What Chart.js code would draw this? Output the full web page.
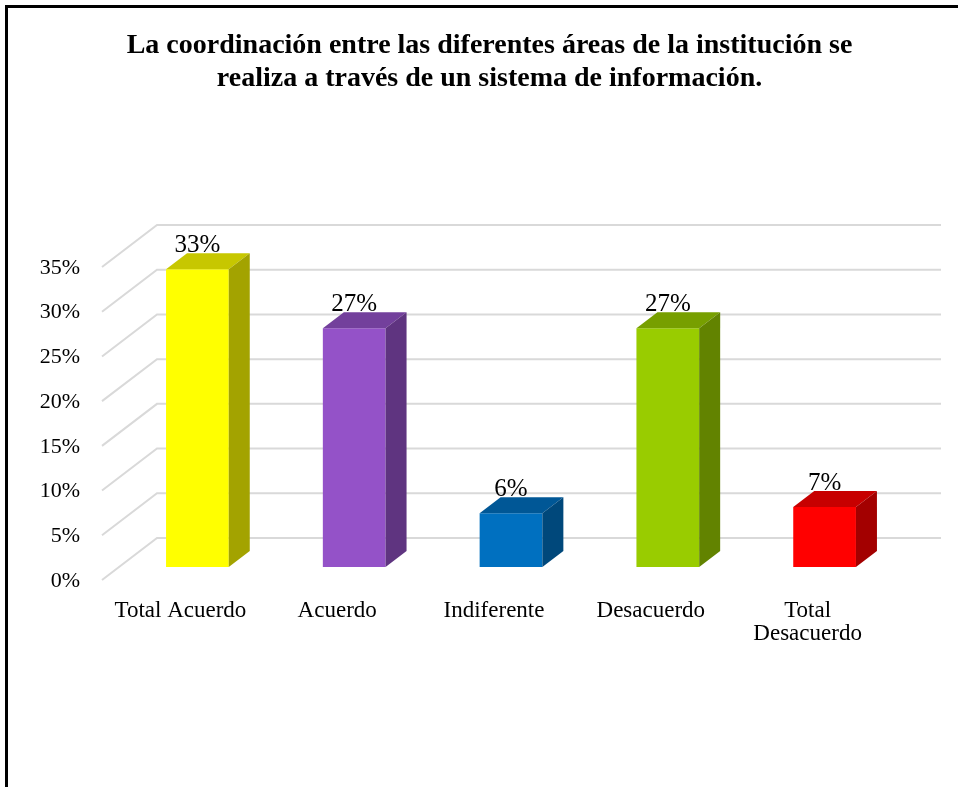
<!DOCTYPE html>
<html>
<head>
<meta charset="utf-8">
<script src="https://cdn.jsdelivr.net/npm/chart.js@4/dist/chart.umd.min.js"></script>
<style>
  html, body { margin: 0; padding: 0; background: #fff; }
  #wrap { position: relative; width: 958px; height: 787px; overflow: hidden; }
  #c { position: absolute; left: 0; top: 0; }
  .bt { position: absolute; left: 5px; top: 5px; width: 953px; height: 3px; background: #000; }
  .bl { position: absolute; left: 5px; top: 5px; width: 3px; height: 782px; background: #000; }
</style>
</head>
<body>
<div id="wrap">
  <canvas id="c" width="958" height="787"></canvas>
  <div class="bt"></div>
  <div class="bl"></div>
</div>
<script>
// ---- data ----
const titleLines = [
  "La coordinación entre las diferentes áreas de la institución se",
  "realiza a través de un sistema de información."
];
const categories = ["Total Acuerdo", "Acuerdo", "Indiferente", "Desacuerdo", ["Total", "Desacuerdo"]];
const values = [33.3, 26.7, 6.0, 26.7, 6.7];
const barColors = ["#FFFF00", "#9452C8", "#0070C0", "#99CC00", "#FF0000"];
const yMin = 0;
const yMax = 35;
const yStep = 5;

// ---- helpers ----
function shade(hex, f) {
  const n = parseInt(hex.slice(1), 16);
  const r = Math.round(((n >> 16) & 255) * f);
  const g = Math.round(((n >> 8) & 255) * f);
  const b = Math.round((n & 255) * f);
  return `rgb(${r},${g},${b})`;
}

const FRONT = { dx: -17, dy: 13 };   // front wall plane relative to bar plane
const BACK = { dx: 38, dy: -29 };    // back wall plane relative to bar plane
const DEPTH = { dx: 21, dy: -16 };   // bar depth

const wallsPlugin = {
  id: 'walls3d',
  beforeDatasetsDraw(chart) {
    const ctx = chart.ctx;
    const ys = chart.scales.y;
    const a = chart.chartArea;
    ctx.save();
    ctx.strokeStyle = '#d9d9d9';
    ctx.lineWidth = 2;
    ys.ticks.forEach(t => {
      const py = ys.getPixelForValue(t.value);
      ctx.beginPath();
      ctx.moveTo(a.left + FRONT.dx, py + FRONT.dy);
      ctx.lineTo(a.left + BACK.dx, py + BACK.dy);
      ctx.lineTo(a.right + BACK.dx, py + BACK.dy);
      ctx.stroke();
    });
    ctx.restore();
  },
  afterDatasetsDraw(chart) {
    const ctx = chart.ctx;
    const meta = chart.getDatasetMeta(0);
    ctx.save();
    meta.data.forEach((bar, i) => {
      const p = bar.getProps(['x', 'y', 'base', 'width'], true);
      const l = p.x - p.width / 2, r = p.x + p.width / 2;
      const col = barColors[i];
      // top face
      ctx.fillStyle = shade(col, 0.78);
      ctx.beginPath();
      ctx.moveTo(l, p.y);
      ctx.lineTo(r, p.y);
      ctx.lineTo(r + DEPTH.dx, p.y + DEPTH.dy);
      ctx.lineTo(l + DEPTH.dx, p.y + DEPTH.dy);
      ctx.closePath();
      ctx.fill();
      // side face
      ctx.fillStyle = shade(col, 0.64);
      ctx.beginPath();
      ctx.moveTo(r, p.y);
      ctx.lineTo(r + DEPTH.dx, p.y + DEPTH.dy);
      ctx.lineTo(r + DEPTH.dx, p.base + DEPTH.dy);
      ctx.lineTo(r, p.base);
      ctx.closePath();
      ctx.fill();
      // value label
      ctx.fillStyle = '#000';
      ctx.font = '25px "Liberation Serif"';
      ctx.textAlign = 'center';
      ctx.textBaseline = 'alphabetic';
      ctx.fillText(Math.round(values[i]) + '%', p.x, p.y + DEPTH.dy - 1);
    });
    ctx.restore();
  }
};

Chart.defaults.font.family = '"Liberation Serif", "Times New Roman", serif';
Chart.defaults.color = '#000';

new Chart(document.getElementById('c'), {
  type: 'bar',
  data: {
    labels: categories,
    datasets: [{
      data: values,
      backgroundColor: barColors,
      borderWidth: 0,
      categoryPercentage: 1.0,
      barPercentage: 0.4
    }]
  },
  options: {
    responsive: false,
    animation: false,
    devicePixelRatio: 1,
    layout: { padding: { left: 21, right: 0, top: 0, bottom: 0 } },
    plugins: {
      legend: { display: false },
      tooltip: { enabled: false },
      title: {
        display: true,
        text: titleLines,
        color: '#000',
        font: { family: '"Liberation Serif"', size: 28, weight: 'bold', lineHeight: 33 / 28 },
        padding: { top: 29, bottom: 159 }
      }
    },
    scales: {
      x: {
        grid: { display: false },
        border: { display: false },
        ticks: {
          autoSkip: false,
          maxRotation: 0,
          minRotation: 0,
          padding: 24,
          labelOffset: -17,
          color: '#000',
          font: { size: 23, lineHeight: 1.0 }
        },
        afterFit(s) { s.height = 220; }
      },
      y: {
        min: yMin,
        max: yMax,
        grid: { display: false },
        border: { display: false },
        ticks: {
          stepSize: yStep,
          padding: 31,
          labelOffset: 14,
          color: '#000',
          font: { size: 22 },
          callback: v => v + '%'
        },
        afterFit(s) { s.width = 98; }
      },
      yRight: {
        position: 'right',
        min: 0,
        max: 1,
        grid: { display: false },
        border: { display: false },
        ticks: { display: false },
        afterFit(s) { s.width = 55; }
      }
    }
  },
  plugins: [wallsPlugin]
});
</script>
</body>
</html>
